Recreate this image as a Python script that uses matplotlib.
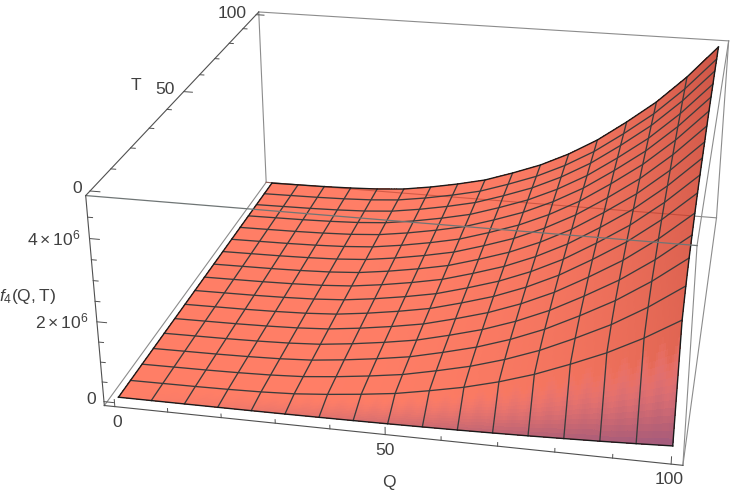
import numpy as np
import matplotlib
matplotlib.use('Agg')
import matplotlib.pyplot as plt

plt.rcParams['font.family'] = ['Liberation Sans', 'DejaVu Sans']
plt.rcParams['mathtext.fontset'] = 'custom'
plt.rcParams['mathtext.rm'] = 'Liberation Sans'
plt.rcParams['mathtext.it'] = 'Liberation Sans:italic'

# mesh nodes
q_nodes = [0, 6.25, 12.5, 18.75, 25, 31.25, 37.5, 43.75, 50, 56.25, 62.5, 68.75, 75, 81.25, 87.5, 93.75, 100]
t_nodes = [0, 6.25, 12.5, 18.75, 25, 31.25, 37.5, 43.75, 50, 56.25, 62.5, 68.75, 75, 81.25, 87.5, 93.75, 100]
# height along the far edge T=100, in units of 1e6
z_far = [0, 0.01, 0.02, 0.04, 0.074, 0.138, 0.263, 0.419, 0.604, 0.877, 1.179, 1.566, 2.038, 2.619, 3.25, 4.012, 4.898]
# share of that height reached on each T line, read along the edge Q=100
t_share = [0.04, 0.569, 0.654, 0.714, 0.753, 0.791, 0.823, 0.847, 0.869, 0.889, 0.911, 0.93, 0.946, 0.959, 0.975, 0.986, 1.0]

q_ticks = [0, 10, 20, 30, 40, 50, 60, 70, 80, 90, 100]
t_ticks = [0, 10, 20, 30, 40, 50, 60, 70, 80, 90, 100]
z_ticks = [0, 0.5, 1, 1.5, 2, 2.5, 3, 3.5, 4, 4.5]
q_major = [0, 50, 100]
t_major = [0, 50, 100]
z_major = [0, 2, 4]
q_lim = (-2, 102)
t_lim = (-2, 102)
z_lim = (-0.1, 5.0)

GRAY = '#8c8c8c'
DARK = '#505050'
TXT = '#404040'
MESH = '#3c3c3c'
OUTLINE = '#1a1a1a'

fig = plt.figure(figsize=(7.3, 4.98), dpi=100)
ax = fig.add_axes([0.1, 0.1, 0.5, 0.5 * 730 / 498], projection='3d', computed_zorder=False)
ax.set_xlim(*q_lim)
ax.set_ylim(*t_lim)
ax.set_zlim(*z_lim)
ax.set_axis_off()
ax.view_init(24.073, -78.9044, -0.0059)
ax.set_proj_type('persp', focal_length=np.exp(-0.8243))
ax.set_box_aspect((1, 1.0012, 0.3982))

# place the axes so the box lands where it is in the picture
ax.apply_aspect()
p0 = ax.transAxes.inverted().transform(ax.transData.transform((0, 0)))
p1 = ax.transAxes.inverted().transform(ax.transData.transform((0.1, 0.1)))
ux = (p1 - p0)[0] / 0.1
L = 4073.945 / ux
left = 442.281 - L * p0[0]
bottom = 498 - 208.153 - L * p0[1]
ax.set_position([left / 730, bottom / 498, L / 730, L / 498])
ax.patch.set_alpha(0)


def refine(a, n=16):
    # split every mesh cell, only so the colour can change smoothly inside it
    a = np.asarray(a, float)
    i = np.arange((len(a) - 1) * n + 1) / n
    return np.interp(i, np.arange(len(a)), a)


Z = np.outer(t_share, z_far)
QQ, TT = np.meshgrid(refine(q_nodes), refine(t_nodes))
ZZ = np.outer(refine(t_share), refine(z_far))

# colours: salmon, darker up the steep right side, pink and purple along the front
q = QQ / 100.0
t = TT / 100.0
salmon = np.array([255, 126, 102]) / 255.0
deep = np.array([205, 85, 70]) / 255.0
pink = np.array([242, 122, 122]) / 255.0
purple = np.array([165, 92, 125]) / 255.0
m = (q ** 4 * (0.6 + 0.4 * t))[..., None]
rgb = salmon * (1 - m) + deep * m
f = np.clip(t / (0.05 * (1 + 0.12 * np.cos(2 * np.pi * 32 * q))), 0, 1)
v = (0.7 * q ** 2 * 4 * f * (1 - f))[..., None]
rgb = rgb * (1 - v) + pink * v
pm = (np.minimum(q ** 1.2, 1) * (1 - f) ** 1.7)[..., None]
rgb = rgb * (1 - pm) + purple * pm

x0, x1 = q_lim
y0, y1 = t_lim
z0, z1 = z_lim


def edge(a, b, color, lw=0.8, z=1, alpha=1):
    ax.plot3D([a[0], b[0]], [a[1], b[1]], [a[2], b[2]], color=color, lw=lw, zorder=z, alpha=alpha)


# back of the box, behind the surface
edge((x0, y1, z0), (x1, y1, z0), GRAY)
edge((x0, y0, z0), (x0, y1, z0), GRAY)
edge((x0, y1, z0), (x0, y1, z1), GRAY)
edge((x1, y1, z0), (x1, y1, z1), GRAY)
edge((x0, y1, z1), (x1, y1, z1), GRAY)
edge((x1, y0, z0), (x1, y1, z0), GRAY)
edge((x1, y0, z0), (x1, y0, z1), GRAY)
edge((x1, y0, z1), (x1, y1, z1), GRAY)

ax.plot_surface(QQ, TT, ZZ, rstride=1, cstride=1, facecolors=rgb, edgecolor='none', linewidth=0, antialiased=False, shade=False, zorder=2)
# far floor edge shows faintly through the surface
edge((x0, y1, z0), (96, y1, z0), '#a03020', z=2.5, alpha=0.45)

for i in range(1, len(t_nodes) - 1):
    ax.plot3D(q_nodes, [t_nodes[i]] * len(q_nodes), Z[i], color=MESH, lw=0.95, zorder=3)
for j in range(1, len(q_nodes) - 1):
    ax.plot3D([q_nodes[j]] * len(t_nodes), t_nodes, Z[:, j], color=MESH, lw=0.95, zorder=3)
ax.plot3D(q_nodes, [0] * len(q_nodes), Z[0], color=OUTLINE, lw=1.0, zorder=4)
ax.plot3D(q_nodes, [100] * len(q_nodes), Z[-1], color=OUTLINE, lw=1.0, zorder=4)
ax.plot3D([0] * len(t_nodes), t_nodes, Z[:, 0], color=OUTLINE, lw=1.0, zorder=4)
ax.plot3D([100] * len(t_nodes), t_nodes, Z[:, -1], color=OUTLINE, lw=1.0, zorder=4)

# front of the box and the axes with ticks
edge((x0, y0, z1), (x1, y0, z1), '#6f7575', lw=0.9, z=5)
edge((x0, y0, z0), (x1, y0, z0), DARK, z=5)
edge((x0, y0, z0), (x0, y0, z1), DARK, z=5)
edge((x0, y0, z1), (x0, y1, z1), DARK, z=5)

for val in q_ticks:
    d = 0.18 if val in q_major else 0.09
    edge((val, y0, z0), (val, y0, z0 + d), DARK, lw=0.7, z=5)
for val in t_ticks:
    d = 1.8 if val in t_major else 0.9
    edge((x0, val, z1), (x0 + d, val, z1), DARK, lw=0.7, z=5)
for val in z_ticks:
    d = 1.8 if val in z_major else 0.9
    edge((x0, y0, val), (x0 + d, y0, val), DARK, lw=0.7, z=5)


def label(px, py, s, size=12.6, ha='center'):
    fig.text(px / 730, 1 - py / 498, s, fontsize=size, color=TXT, ha=ha, va='center')


label(232, 13, '100')
label(165, 90, '50')
label(77, 188, '0')
label(136, 85, 'T')
label(117, 422, '0')
label(385, 450, '50')
label(669, 479, '100')
label(389, 482, 'Q')
label(91, 399, '0')
label(81, 238, r'$4\times 10^{6}$', ha='right')
label(89, 321, r'$2\times 10^{6}$', ha='right')
label(27, 297, r'$\mathit{f}_{4}(\mathrm{Q,T})$')

fig.savefig('out.png', dpi=100)
